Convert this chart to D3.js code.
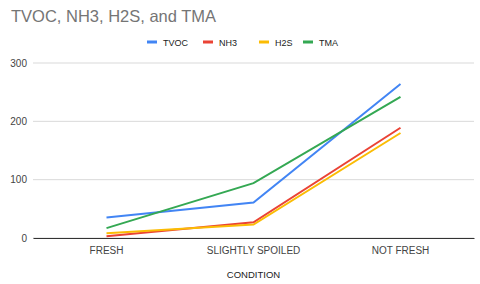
<!DOCTYPE html>
<html>
  <head>
    <meta charset="utf-8">
    <title>TVOC, NH3, H2S, and TMA</title>
    <script src="https://d3js.org/d3.v7.min.js"></script>
    <style>
      body { margin: 0; background: #fff; }
      text { font-family: "Liberation Sans", Arial, sans-serif; }
    </style>
  </head>
  <body>
    <div id="chart"></div>
    <script>
      // Data
      var conditions = ["FRESH", "SLIGHTLY SPOILED", "NOT FRESH"];
      var seriesNames = ["TVOC", "NH3", "H2S", "TMA"];
      var seriesColors = ["#4285f4", "#ea4335", "#fbbc04", "#34a853"];
      var tvoc = [35, 61, 264];
      var nh3 = [3, 27, 189];
      var h2s = [8, 23, 180];
      var tma = [17, 94, 242];
      var yTicks = [0, 100, 200, 300];

      var series = [tvoc, nh3, h2s, tma];

      var W = 480, H = 284;
      var margin = { top: 63, right: 6, bottom: 46, left: 33 },
          width = W - margin.left - margin.right,
          height = H - margin.top - margin.bottom;

      var font = "'Liberation Sans', Arial, sans-serif";

      var root = d3.select("#chart")
                   .append("svg")
                   .attr("width", W)
                   .attr("height", H);

      // Title
      root.append("text")
          .attr("x", 11)
          .attr("y", 22)
          .style("font-size", "16.5px")
          .style("fill", "#757575")
          .text("TVOC, NH3, H2S, and TMA");

      var svg = root.append("g")
                    .attr("transform", "translate(" + margin.left + "," + margin.top + ")");

      var xScale = d3.scaleBand()
                     .domain(conditions)
                     .range([0, width]);
      var yScale = d3.scaleLinear()
                     .domain([0, 300])
                     .range([height, 0]);

      // Gridlines
      svg.append("g")
         .selectAll("line")
         .data(yTicks)
         .enter()
         .append("line")
         .attr("x1", 0)
         .attr("x2", width)
         .attr("y1", function(d) { return yScale(d); })
         .attr("y2", function(d) { return yScale(d); })
         .attr("stroke", "#d9d9d9")
         .attr("stroke-width", 1);

      // Y axis (labels only)
      var yAxis = svg.append("g")
         .call(d3.axisLeft(yScale).tickValues(yTicks).tickSize(0).tickPadding(6));
      yAxis.select(".domain").remove();
      yAxis.selectAll("text")
           .style("font-size", "10px")
           .style("fill", "#444")
           .style("font-family", font);

      // X axis
      var xAxis = svg.append("g")
         .attr("transform", "translate(0," + height + ")")
         .call(d3.axisBottom(xScale).tickSize(0).tickPadding(9));
      xAxis.select(".domain").attr("stroke", "#333").attr("stroke-width", 1);
      xAxis.selectAll("text")
           .style("font-size", "10px")
           .style("fill", "#444")
           .style("font-family", font);

      // Lines
      var line = d3.line()
                   .x(function(d, i) { return xScale(conditions[i]) + xScale.bandwidth() / 2; })
                   .y(function(d) { return yScale(d); });

      svg.selectAll(".series")
         .data(series)
         .enter()
         .append("path")
         .attr("class", "series")
         .attr("fill", "none")
         .attr("stroke", function(d, i) { return seriesColors[i]; })
         .attr("stroke-width", 2)
         .attr("d", line);

      // Legend
      var legendX = [147, 203, 259, 303];
      var legend = root.append("g").attr("transform", "translate(0,42)");
      var items = legend.selectAll("g")
                        .data(seriesNames)
                        .enter()
                        .append("g")
                        .attr("transform", function(d, i) { return "translate(" + legendX[i] + ",0)"; });
      items.append("rect")
           .attr("x", 0)
           .attr("y", -1.5)
           .attr("width", 10)
           .attr("height", 3)
           .attr("fill", function(d, i) { return seriesColors[i]; });
      items.append("text")
           .attr("x", 16)
           .attr("y", 3.5)
           .style("font-size", "9px")
           .style("fill", "#222")
           .text(function(d) { return d; });

      // X axis label
      root.append("text")
          .attr("x", margin.left + width / 2)
          .attr("y", 278)
          .style("text-anchor", "middle")
          .style("font-size", "9.5px")
          .style("fill", "#222")
          .text("CONDITION");
    </script>
  </body>
</html>
